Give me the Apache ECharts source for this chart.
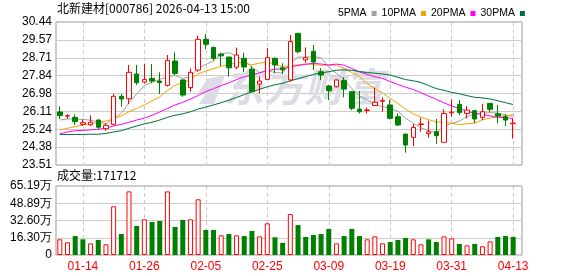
<!DOCTYPE html>
<html>
<head>
<meta charset="utf-8">
<script src="https://cdn.jsdelivr.net/npm/echarts@6/dist/echarts.min.js"></script>
<style>
  html, body { margin: 0; padding: 0; background: #fff; }
  #chart { width: 578px; height: 276px; }
</style>
</head>
<body>
<div id="chart"></div>
<script>
// 交易日
const dates = [
  '01-09', '01-12', '01-13', '01-14', '01-15', '01-16', '01-19', '01-20', '01-21', '01-22',
  '01-23', '01-26', '01-27', '01-28', '01-29', '01-30', '02-02', '02-03', '02-04', '02-05',
  '02-06', '02-09', '02-10', '02-11', '02-12', '02-13', '02-24', '02-25', '02-26', '02-27',
  '03-02', '03-03', '03-04', '03-05', '03-06', '03-09', '03-10', '03-11', '03-12', '03-13',
  '03-16', '03-17', '03-18', '03-19', '03-20', '03-23', '03-24', '03-25', '03-26', '03-27',
  '03-30', '03-31', '04-01', '04-02', '04-03', '04-07', '04-08', '04-09', '04-10', '04-13'
];
const labelDays = ['01-14', '01-26', '02-05', '02-25', '03-09', '03-19', '03-31', '04-13'];

const opens = [
  26.08, 25.88, 25.82, 25.48, 25.46, 25.69, 25.27, 25.48, 26.84, 26.72,
  27.92, 27.53, 27.71, 27.58, 27.37, 28.55, 27.63, 27.26, 28.11, 29.60,
  29.21, 28.88, 28.74, 28.25, 28.68, 28.15, 27.43, 27.66, 28.68, 28.22,
  27.63, 29.89, 28.60, 29.02, 28.03, 27.34, 27.30, 27.60, 27.06, 26.22,
  26.15, 26.39, 26.60, 26.42, 25.85, 25.01, 24.85, 25.47, 25.03, 25.12,
  24.61, 26.04, 26.45, 26.01, 26.14, 25.82, 26.50, 25.99, 25.85, 25.51
];
const closes = [
  25.90, 25.90, 25.61, 25.56, 25.58, 25.34, 25.43, 26.84, 26.71, 28.00,
  27.50, 27.65, 27.58, 27.50, 28.58, 27.95, 26.90, 28.00, 29.60, 29.36,
  28.68, 28.80, 28.22, 28.84, 28.26, 27.06, 27.58, 28.71, 28.36, 28.12,
  29.49, 29.00, 28.71, 28.50, 27.87, 27.11, 27.63, 27.19, 26.26, 26.09,
  26.18, 26.55, 26.64, 25.77, 25.45, 24.48, 25.33, 25.50, 25.12, 24.93,
  26.01, 26.07, 26.05, 26.17, 25.74, 26.09, 26.21, 25.89, 25.69, 25.54
];
const lows = [
  25.74, 25.74, 25.45, 25.40, 25.40, 25.25, 25.17, 25.43, 26.34, 26.46,
  27.39, 27.45, 27.47, 26.95, 27.31, 27.87, 26.82, 27.06, 28.03, 29.12,
  28.57, 28.31, 27.79, 28.15, 28.00, 27.05, 26.98, 27.63, 27.95, 27.92,
  27.55, 28.92, 28.47, 28.11, 27.63, 26.66, 27.27, 26.79, 26.17, 26.01,
  26.01, 26.38, 26.09, 25.72, 25.40, 24.11, 24.43, 25.12, 24.83, 24.53,
  24.61, 25.85, 25.93, 25.77, 25.53, 25.69, 26.09, 25.53, 25.40, 24.79
];
const highs = [
  26.35, 25.96, 25.96, 25.72, 25.92, 25.72, 25.53, 26.95, 26.95, 28.36,
  28.36, 28.42, 28.40, 28.00, 28.84, 28.97, 27.66, 28.19, 29.78, 29.86,
  29.25, 28.95, 28.76, 29.20, 28.95, 28.30, 27.79, 29.17, 28.72, 28.44,
  29.81, 29.90, 29.21, 29.33, 28.20, 27.39, 27.66, 27.76, 27.10, 27.10,
  26.30, 27.26, 26.79, 26.66, 26.01, 25.02, 25.50, 25.80, 25.66, 25.74,
  26.21, 26.69, 26.66, 26.37, 26.17, 26.47, 26.50, 26.42, 25.98, 25.77
];
const prevClose = 25.80; // 窗口前一日收盘

const ma5 = [
  25.69, 25.74, 25.74, 25.72, 25.68, 25.60, 25.50, 25.75, 26.02, 26.52,
  26.95, 27.36, 27.52, 27.66, 27.78, 27.85, 27.70, 27.79, 28.21, 28.38,
  28.55, 28.90, 28.95, 28.78, 28.56, 28.24, 27.99, 28.09, 27.99, 27.97,
  28.45, 28.74, 28.74, 28.76, 28.71, 28.24, 27.96, 27.66, 27.21, 26.86,
  26.67, 26.45, 26.34, 26.25, 26.12, 25.78, 25.53, 25.31, 25.18, 25.07,
  25.38, 25.53, 25.64, 25.85, 26.01, 26.02, 26.05, 26.02, 25.92, 25.88
];
const ma10 = [
  25.21, 25.29, 25.37, 25.45, 25.51, 25.58, 25.64, 25.74, 25.89, 26.09,
  26.25, 26.42, 26.62, 26.81, 27.11, 27.37, 27.52, 27.64, 27.93, 28.06,
  28.18, 28.30, 28.36, 28.49, 28.46, 28.37, 28.44, 28.51, 28.39, 28.26,
  28.34, 28.36, 28.41, 28.38, 28.34, 28.35, 28.35, 28.20, 27.99, 27.79,
  27.45, 27.21, 27.00, 26.73, 26.49, 26.22, 25.99, 25.83, 25.71, 25.60,
  25.58, 25.53, 25.47, 25.51, 25.54, 25.70, 25.79, 25.83, 25.89, 25.95
];
const ma20 = [
  25.03, 25.11, 25.17, 25.19, 25.21, 25.24, 25.30, 25.40, 25.48, 25.58,
  25.69, 25.78, 25.92, 26.08, 26.25, 26.42, 26.55, 26.70, 26.88, 27.07,
  27.21, 27.36, 27.49, 27.65, 27.79, 27.87, 27.98, 28.07, 28.16, 28.16,
  28.26, 28.33, 28.39, 28.44, 28.40, 28.36, 28.40, 28.35, 28.19, 28.02,
  27.90, 27.79, 27.71, 27.55, 27.41, 27.28, 27.17, 27.01, 26.85, 26.69,
  26.52, 26.37, 26.24, 26.12, 26.01, 25.96, 25.89, 25.83, 25.80, 25.77
];
const ma30 = [
  24.99, 24.99, 24.99, 24.99, 25.00, 25.00, 25.04, 25.11, 25.17, 25.29,
  25.40, 25.50, 25.58, 25.69, 25.82, 25.92, 25.99, 26.09, 26.22, 26.32,
  26.42, 26.53, 26.65, 26.78, 26.92, 27.05, 27.18, 27.30, 27.40, 27.47,
  27.59, 27.69, 27.80, 27.90, 27.97, 28.03, 28.10, 28.12, 28.10, 28.04,
  27.99, 27.96, 27.92, 27.87, 27.76, 27.65, 27.59, 27.51, 27.36, 27.21,
  27.13, 27.03, 26.96, 26.87, 26.79, 26.76, 26.71, 26.62, 26.53, 26.44
];

// 成交量（万）
const volumes = [
  14.8, 12.0, 17.9, 14.8, 11.0, 14.2, 10.1, 46.0, 19.8, 60.1,
  27.4, 33.7, 31.2, 32.1, 60.1, 26.5, 33.1, 33.7, 52.6, 23.6,
  23.6, 18.6, 19.8, 18.6, 17.9, 22.7, 17.6, 29.9, 16.7, 11.5,
  38.7, 28.3, 17.0, 18.9, 19.8, 24.6, 11.0, 17.9, 24.6, 17.9,
  14.8, 17.6, 11.0, 12.3, 14.2, 16.1, 14.8, 10.1, 14.8, 12.3,
  17.6, 15.7, 10.4, 9.1, 10.4, 8.2, 12.9, 17.0, 17.9, 17.1712
];

const priceTicks = ['23.51', '24.38', '25.24', '26.11', '26.98', '27.84', '28.71', '29.57', '30.44'];
const volTicks = ['0', '16.30万', '32.60万', '48.89万', '65.19万'];

const priceMin = 23.51, priceMax = 30.44, priceStep = 0.86625;
const volMax = 65.19, volStep = 16.2975;

const RED = '#ff0000';
const GREEN = '#008000';
const maNames = ['5PMA', '10PMA', '20PMA', '30PMA'];
const maColors = ['#a0a0a0', '#f4a300', '#ff00ff', '#006f3c'];
const cjkFont = '"Noto Sans CJK SC", sans-serif';

const chart = echarts.init(document.getElementById('chart'));

const frame = { show: true, borderColor: '#999', borderWidth: 1, backgroundColor: 'transparent' };
const dashed = {
  show: true,
  alignWithLabel: true,
  interval: (idx) => labelDays.includes(dates[idx]),
  lineStyle: { color: '#ccc', type: [4, 3], width: 1 },
};

const maSeries = [ma5, ma10, ma20, ma30].map((d, k) => ({
  name: maNames[k],
  type: 'line',
  xAxisIndex: 1,
  yAxisIndex: 1,
  data: d,
  symbol: 'none',
  lineStyle: { width: 1, color: maColors[k] },
  itemStyle: { color: maColors[k] },
  z: 3,
}));

const option = {
  animation: false,
  backgroundColor: '#fff',
  textStyle: { fontFamily: 'Liberation Sans, Arial, sans-serif' },
  legend: {
    data: maNames,
    left: 333,
    top: 3,
    width: 245,
    align: 'right',
    icon: 'rect',
    itemWidth: 5,
    itemHeight: 5,
    itemGap: 5,
    textStyle: { fontSize: 10.5, fontFamily: 'Liberation Sans, Arial, sans-serif', color: '#000' },
  },
  graphic: [
    {
      type: 'text', left: 57, top: 2, z: 10,
      style: { text: '北新建材[000786] 2026-04-13 15:00', fontSize: 12, fontFamily: cjkFont, fill: '#000' },
    },
    {
      type: 'text', left: 57, top: 169, z: 10,
      style: { text: '成交量:' + Math.round(volumes[volumes.length - 1] * 10000), fontSize: 12, fontFamily: cjkFont, fill: '#000' },
    },
    // 水印
    {
      type: 'polygon', z: 1, silent: true,
      shape: { points: [[207, 79], [225, 75], [214, 104], [199, 104], [206, 93], [198, 93]] },
      style: { fill: '#dcdce4' },
    },
    {
      type: 'text', left: 224, top: 67, z: 1, silent: true,
      style: { text: '东方财富', fontSize: 40, fontWeight: 'bold', fontStyle: 'italic', fontFamily: cjkFont, fill: '#dcdce4' },
    },
  ],
  grid: [
    Object.assign({ left: 56, top: 22, width: 466, height: 143 }, frame),
    { left: 56, top: 22, width: 461, height: 143 },
    Object.assign({ left: 56, top: 186, width: 466, height: 69 }, frame),
    { left: 56, top: 186, width: 461, height: 69 },
  ],
  xAxis: [
    { type: 'value', gridIndex: 0, min: 0, max: 1, show: false },
    {
      type: 'category', gridIndex: 1, data: dates, boundaryGap: true,
      axisLine: { show: false }, axisTick: { show: false }, axisLabel: { show: false },
      splitLine: dashed,
    },
    { type: 'value', gridIndex: 2, min: 0, max: 1, show: false },
    {
      type: 'category', gridIndex: 3, data: dates, boundaryGap: true,
      axisLine: { show: false }, axisTick: { show: false },
      axisLabel: {
        interval: (idx) => labelDays.includes(dates[idx]),
        color: RED, fontSize: 12, margin: 6,
      },
      splitLine: dashed,
    },
  ],
  yAxis: [
    {
      type: 'value', gridIndex: 0, min: priceMin, max: priceMax, interval: priceStep,
      axisLine: { show: false }, axisTick: { show: false },
      axisLabel: {
        margin: 4, fontSize: 12, color: '#000',
        formatter: (v) => priceTicks[Math.round((v - priceMin) / priceStep)],
      },
      splitLine: { lineStyle: { color: '#ccc', width: 1 } },
    },
    { type: 'value', gridIndex: 1, min: priceMin, max: priceMax, show: false },
    {
      type: 'value', gridIndex: 2, min: 0, max: volMax, interval: volStep,
      axisLine: { show: false }, axisTick: { show: false },
      axisLabel: {
        margin: 4, fontSize: 12, color: '#000',
        formatter: (v) => volTicks[Math.round(v / volStep)],
      },
      splitLine: { lineStyle: { color: '#ccc', width: 1 } },
    },
    { type: 'value', gridIndex: 3, min: 0, max: volMax, show: false },
  ],
  series: [
    {
      name: 'K',
      type: 'candlestick',
      xAxisIndex: 1,
      yAxisIndex: 1,
      barWidth: 5,
      data: dates.map((d, i) => [opens[i], closes[i], lows[i], highs[i]]),
      itemStyle: {
        color: '#fff',
        color0: GREEN,
        borderColor: RED,
        borderColor0: GREEN,
        borderWidth: 1,
      },
      z: 4,
    },
    ...maSeries,
    {
      name: 'VOL',
      type: 'bar',
      xAxisIndex: 3,
      yAxisIndex: 3,
      barWidth: 5,
      data: volumes.map((v, i) => {
        const pc = i === 0 ? prevClose : closes[i - 1];
        const up = closes[i] >= pc;
        return {
          value: v,
          itemStyle: up
            ? { color: '#fff', borderColor: RED, borderWidth: 1 }
            : { color: GREEN },
        };
      }),
    },
  ],
};

chart.setOption(option);
</script>
</body>
</html>
